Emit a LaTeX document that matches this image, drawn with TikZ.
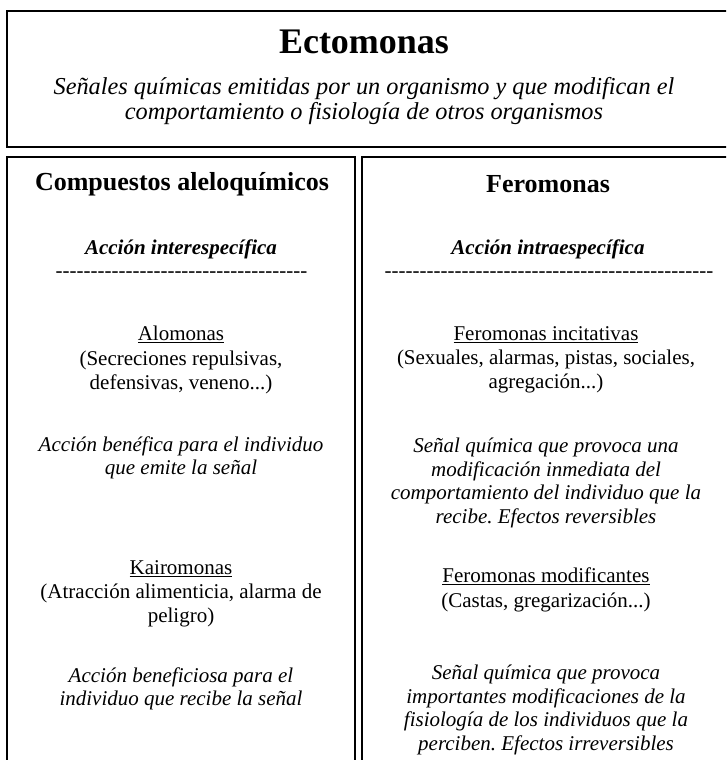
\documentclass[tikz,border=0pt]{standalone}
\usepackage{fontspec}
\setmainfont{Liberation Serif}
\ExplSyntaxOn
\NewDocumentCommand\hyphenrow{m}{\prg_replicate:nn{#1}{-\kern0pt}}
\ExplSyntaxOff
\frenchspacing
\tikzset{
  frame/.style={draw, line width=1.6pt},
  ttl/.style={inner sep=0pt, font=\fontsize{36}{40}\selectfont\bfseries},
  sub/.style={inner sep=0pt, align=center, font=\fontsize{24.3}{24.5}\selectfont\itshape},
  hdr/.style={inner sep=0pt, font=\fontsize{26}{30}\selectfont\bfseries},
  act/.style={inner sep=0pt, font=\fontsize{21}{24}\selectfont\bfseries\itshape},
  dsh/.style={inner sep=0pt, font=\fontsize{21}{24}\selectfont},
  body/.style={inner sep=0pt, align=center, font=\fontsize{21}{24.3}\selectfont},
  note/.style={inner sep=0pt, align=center, font=\fontsize{21}{23.5}\selectfont\itshape},
}
\begin{document}
\begin{tikzpicture}[x=1pt,y=-1pt]
\clip (0,0) rectangle (726,760);
\fill[white] (0,0) rectangle (726,760);
% frames
\draw[frame] (7,11) rectangle (740,147);
\draw[frame] (7,157) rectangle (355,790);
\draw[frame] (362,157) rectangle (740,790);
% top box
\node[ttl] (title) at (364,42) {Ectomonas};
\node[sub] (def) at (364,101) {Señales químicas emitidas por un organismo y que modifican el\\comportamiento o fisiología de otros organismos};
% left column
\node[hdr] (hdrL) at (182,184) {Compuestos aleloquímicos};
\node[act] (actL) at (181,249) {Acción interespecífica};
\node[dsh] (dashL) at (181.5,275) {\hyphenrow{36}};
\node[body] (alo) at (181,360) {\underline{Alomonas}\\(Secreciones repulsivas,\\defensivas, veneno...)};
\node[note] (aloN) at (181,458) {Acción benéfica para el individuo\\que emite la señal};
\node[body] (kai) at (181,594) {\underline{Kairomonas}\\(Atracción alimenticia, alarma de\\peligro)};
\node[note] (kaiN) at (181,689) {Acción beneficiosa para el\\individuo que recibe la señal};
% right column
\node[hdr] (hdrR) at (548,184) {Feromonas};
\node[act] (actR) at (548,249) {Acción intraespecífica};
\node[dsh] (dashR) at (549,275) {\hyphenrow{47}};
\node[body] (inc) at (546,360) {\underline{Feromonas incitativas}\\(Sexuales, alarmas, pistas, sociales,\\agregación...)};
\node[note] (incN) at (546,483) {Señal química que provoca una\\modificación inmediata del\\comportamiento del individuo que la\\recibe. Efectos reversibles};
\node[body] (mod) at (546,590) {\underline{Feromonas modificantes}\\(Castas, gregarización...)};
\node[note] (modN) at (546,710) {Señal química que provoca\\importantes modificaciones de la\\fisiología de los individuos que la\\perciben. Efectos irreversibles};
\end{tikzpicture}
\end{document}
